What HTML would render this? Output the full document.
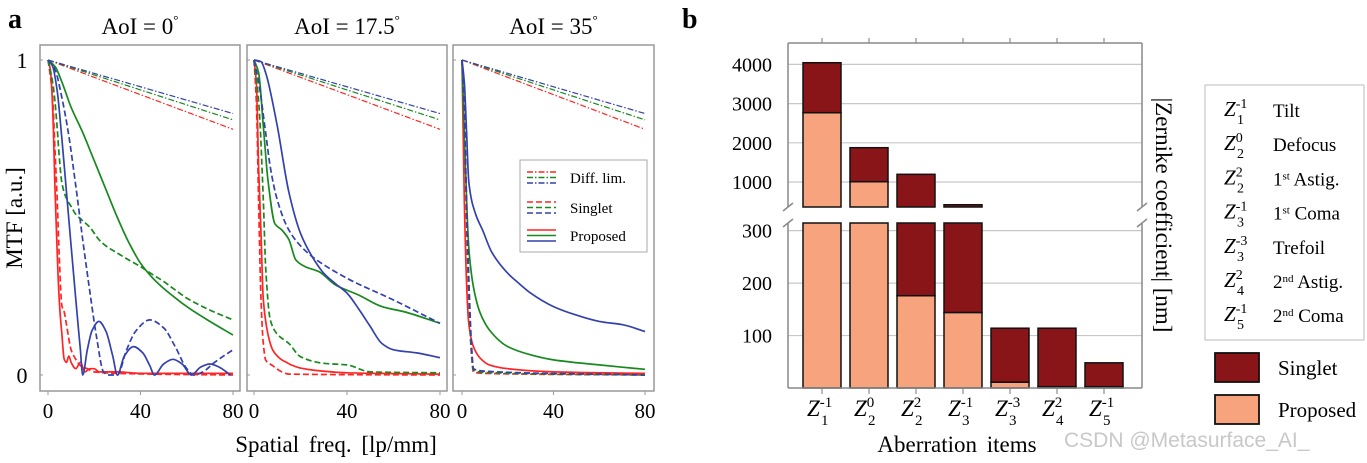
<!DOCTYPE html>
<html><head><meta charset="utf-8"><style>
html,body{margin:0;padding:0;background:#fff;}
svg{display:block;font-family:"Liberation Serif",serif;}
</style></head><body>
<svg id="fig" width="1367" height="463" viewBox="0 0 1367 463" xmlns="http://www.w3.org/2000/svg">
<text x="8" y="28" font-size="28" font-weight="bold">a</text>
<text x="682" y="28" font-size="28" font-weight="bold">b</text>
<g id="panelA"></g>
<g id="panelB"></g>
</svg>
<script>
// ---------- Panel a data: [freq, MTF] ----------
const freqTicks = [0, 40, 80];
const aoiTitles = ["AoI = 0", "AoI = 17.5", "AoI = 35"];
const diffEnd = {red: 0.78, green: 0.81, blue: 0.83};

const aoi0_redProposed = [[0,1],[1,0.97],[2,0.85],[3,0.6],[4,0.38],[5,0.22],[6,0.13],[7,0.05],[8,0.04],[9,0.06],[10,0.04],[12,0.02],[14,0.04],[16,0.01],[18,0.02],[20,0.02],[22,0.01],[26,0.01],[30,0.01],[40,0.005],[60,0.005],[80,0.005]];
const aoi0_redSinglet = [[0,1],[1,0.95],[2,0.88],[3,0.72],[4,0.55],[5,0.35],[6,0.22],[7,0.2],[8,0.16],[10,0.08],[12,0.05],[14,0.03],[17,0.02],[20,0.01],[30,0.005],[80,0]];
const aoi0_greenProposed = [[0,1],[3,0.98],[6,0.93],[10,0.85],[15,0.77],[20,0.68],[25,0.59],[30,0.5],[35,0.42],[40,0.355],[45,0.31],[50,0.275],[55,0.245],[60,0.217],[70,0.17],[80,0.127]];
const aoi0_greenSinglet = [[0,1],[2,0.93],[3,0.87],[4,0.78],[5,0.68],[6,0.61],[8,0.56],[10,0.535],[12,0.51],[15,0.49],[18,0.47],[22,0.43],[25,0.41],[30,0.387],[35,0.365],[40,0.344],[45,0.32],[50,0.297],[55,0.27],[60,0.244],[70,0.206],[80,0.175]];
const aoi0_blueProposed = [[0,1],[2,0.98],[4,0.9],[6,0.75],[8,0.58],[10,0.41],[12,0.24],[14,0.08],[15,0],[17,0.08],[19,0.14],[22,0.17],[25,0.14],[28,0.06],[30,0],[33,0.06],[37,0.09],[41,0.07],[44,0.03],[46,0],[50,0.035],[54,0.05],[58,0.035],[62,0],[66,0.025],[70,0.035],[74,0.025],[79,0]];
const aoi0_blueSinglet = [[0,1],[3,0.97],[6,0.88],[9,0.76],[12,0.6],[15,0.43],[18,0.27],[21,0.12],[24,0.01],[26,0],[30,0],[34,0.08],[38,0.14],[44,0.175],[50,0.15],[55,0.09],[60,0.02],[63,0],[67,0.01],[72,0.04],[80,0.08]];

const aoi17_redProposed = [[0,1],[1,0.93],[2,0.66],[3,0.45],[4,0.24],[6,0.13],[8,0.08],[10,0.06],[12,0.048],[14,0.04],[16,0.032],[20,0.022],[25,0.016],[40,0.007],[80,0.003]];
const aoi17_redSinglet = [[0,1],[1,0.87],[2,0.55],[3,0.24],[4,0.1],[5,0.048],[8,0.03],[12,0.01],[15,0.003],[80,0]];
const aoi17_greenProposed = [[0,1],[2,0.96],[4,0.79],[6,0.62],[9,0.48],[12,0.46],[15,0.43],[18,0.365],[22,0.344],[28,0.328],[35,0.286],[45,0.254],[55,0.217],[65,0.2],[80,0.164]];
const aoi17_greenSinglet = [[0,1],[2,0.87],[4,0.556],[5,0.344],[7,0.175],[10,0.13],[15,0.1],[20,0.058],[30,0.037],[40,0.032],[50,0.01],[80,0.007]];
const aoi17_blueProposed = [[0,1],[3,0.995],[5,0.96],[10,0.79],[15,0.58],[20,0.45],[25,0.376],[30,0.323],[35,0.29],[40,0.26],[45,0.21],[50,0.154],[55,0.1],[60,0.08],[70,0.07],[80,0.055]];
const aoi17_blueSinglet = [[0,1],[2,0.93],[5,0.77],[7,0.66],[10,0.556],[15,0.46],[20,0.41],[25,0.376],[40,0.307],[60,0.238],[80,0.164]];

const aoi35_redProposed = [[0,1],[1,0.556],[2,0.29],[3,0.16],[5,0.09],[8,0.053],[12,0.032],[20,0.02],[40,0.01],[80,0.005]];
const aoi35_redSinglet = [[0,1],[1,0.8],[2,0.48],[3,0.24],[4,0.08],[5,0.01],[10,0.005],[80,0]];
const aoi35_greenProposed = [[0,1],[1,0.77],[2,0.556],[3,0.4],[5,0.28],[8,0.196],[12,0.143],[20,0.09],[30,0.064],[40,0.048],[60,0.032],[80,0.018]];
const aoi35_greenSinglet = [[0,1],[1,0.83],[2,0.52],[3,0.27],[4,0.1],[5,0.015],[10,0.008],[80,0]];
const aoi35_blueProposed = [[0,1],[1,0.93],[2,0.77],[3,0.61],[6,0.51],[9,0.46],[13,0.39],[20,0.323],[25,0.29],[30,0.26],[40,0.217],[50,0.19],[60,0.17],[70,0.16],[80,0.138]];
const aoi35_blueSinglet = [[0,1],[1,0.85],[2,0.55],[3,0.3],[4,0.12],[5,0.02],[10,0.012],[80,0]];

// ---------- Panel b data ----------
const zernCats = [["-1","1"],["0","2"],["2","2"],["-1","3"],["-3","3"],["2","4"],["-1","5"]];
const singletTotal = [4043, 1875, 1196, 420, 114, 114, 48];
const proposedVal = [2768, 1008, 176, 144, 11, 2.5, 2.5];
const upperTicks = [1000, 2000, 3000, 4000];
const lowerTicks = [100, 200, 300];
const legendNames = ["Tilt","Defocus","1|st| Astig.","1|st| Coma","Trefoil","2|nd| Astig.","2|nd| Coma"];

const NS = "http://www.w3.org/2000/svg";
function mk(tag, attrs, parent){ const e=document.createElementNS(NS,tag); for(const k in attrs) e.setAttribute(k,attrs[k]); if(parent) parent.appendChild(e); return e; }

const COL = {red:"#ff2525", green:"#17891d", blue:"#3341ad"};
const A = document.getElementById("panelA");
const subs = [
  {fl:40, fr:240, x0:48, x80:233, d:[aoi0_redProposed,aoi0_redSinglet,aoi0_greenProposed,aoi0_greenSinglet,aoi0_blueProposed,aoi0_blueSinglet]},
  {fl:247, fr:447, x0:254, x80:440, d:[aoi17_redProposed,aoi17_redSinglet,aoi17_greenProposed,aoi17_greenSinglet,aoi17_blueProposed,aoi17_blueSinglet]},
  {fl:453, fr:654, x0:462, x80:645, d:[aoi35_redProposed,aoi35_redSinglet,aoi35_greenProposed,aoi35_greenSinglet,aoi35_blueProposed,aoi35_blueSinglet]}
];
const FT=45, FB=391, Y1=60, Y0=375;
function ys(v){ return Y0 - v*(Y0-Y1); }

// monotone cubic (Fritsch-Carlson) -> no overshoot
function smoothPath(p){
  const n=p.length, dx=[], m=[], t=[];
  for(let i=0;i<n-1;i++){ dx[i]=p[i+1][0]-p[i][0]; m[i]=(p[i+1][1]-p[i][1])/dx[i]; }
  t[0]=m[0]; t[n-1]=m[n-2];
  for(let i=1;i<n-1;i++){
    if(m[i-1]*m[i]<=0) t[i]=0;
    else { const w1=2*dx[i]+dx[i-1], w2=dx[i]+2*dx[i-1]; t[i]=(w1+w2)/(w1/m[i-1]+w2/m[i]); }
  }
  let d="M"+p[0][0].toFixed(1)+","+p[0][1].toFixed(1);
  for(let i=0;i<n-1;i++){
    const h=dx[i];
    d+=" C"+(p[i][0]+h/3).toFixed(1)+","+(p[i][1]+t[i]*h/3).toFixed(1)+" "+(p[i+1][0]-h/3).toFixed(1)+","+(p[i+1][1]-t[i+1]*h/3).toFixed(1)+" "+p[i+1][0].toFixed(1)+","+p[i+1][1].toFixed(1);
  }
  return d;
}

subs.forEach((s,si)=>{
  const xs = f => s.x0 + f*(s.x80-s.x0)/80;
  const g = mk("g",{},A);
  
  
  const fr = mk("rect",{x:s.fl,y:FT,width:s.fr-s.fl,height:FB-FT,fill:"none",stroke:"#999","stroke-width":1.5},g);
  
  
  const t = mk("text",{x:(s.fl+s.fr)/2,y:34,"font-size":23,"text-anchor":"middle"},g);
  
  
  t.textContent = aoiTitles[si];
  const deg = mk("tspan",{dy:-10,"font-size":13},t); deg.textContent="°";
  freqTicks.forEach(f=>{
    mk("line",{x1:xs(f),x2:xs(f),y1:FB,y2:FB+4,stroke:"#999","stroke-width":1},g);
    const tl = mk("text",{x:xs(f),y:418,"font-size":21,"text-anchor":"middle"},g);
    
    
    tl.textContent=f;
  });
  [0,1].forEach(v=>{ mk("line",{x1:s.fl,x2:s.fl+3,y1:ys(v),y2:ys(v),stroke:"#999","stroke-width":1},g); });
  ["red","green","blue"].forEach(c=>{
    const p = mk("line",{x1:xs(0),y1:ys(1),x2:xs(80),y2:ys(diffEnd[c]),stroke:COL[c],"stroke-width":1.2,"stroke-dasharray":"6,2,1.5,2"},g);
    
    
  });
  const order=[[1,"red",true],[0,"red",false],[3,"green",true],[2,"green",false],[5,"blue",true],[4,"blue",false]];
  order.forEach(o=>{
    const pts = s.d[o[0]].map(p=>[xs(p[0]),ys(p[1])]);
    const path = mk("path",{d:smoothPath(pts),fill:"none",stroke:COL[o[1]],"stroke-width":1.7},g);
    if(o[2]) path.setAttribute("stroke-dasharray","6,3");
    
    
  });
  if(si===0){
    [[1,"1"],[0,"0"]].forEach(v=>{
      const yl = mk("text",{x:22,y:ys(v[0])+8,"font-size":22,"text-anchor":"middle"},g);
      
      
      yl.textContent=v[1];
    });
  }
});
const yt = mk("text",{x:0,y:0,"font-size":23,"text-anchor":"middle",transform:"translate(22,218) rotate(-90)"},A);


yt.textContent="MTF [a.u.]";
const xt = mk("text",{x:336,y:452,"font-size":23,"text-anchor":"middle","word-spacing":"4"},A);


xt.textContent="Spatial freq. [lp/mm]";
const lg = mk("g",{},A);


mk("rect",{x:520,y:160,width:127,height:92,fill:"#fff",stroke:"#aaa","stroke-width":1},lg);
[["Diff. lim.","6,2,1.5,2",172],["Singlet","6,3",202],["Proposed","",230]].forEach(e=>{
  ["red","green","blue"].forEach((c,ci)=>{
    const l = mk("line",{x1:527,x2:556,y1:e[2]+ci*5.5,y2:e[2]+ci*5.5,stroke:COL[c],"stroke-width":1.6},lg);
    if(e[1]) l.setAttribute("stroke-dasharray",e[1]);
  });
  const tx = mk("text",{x:570,y:e[2]+11,"font-size":15},lg);
  
  
  tx.textContent=e[0];
});

// ---------- Panel b ----------
const B = document.getElementById("panelB");
const BL=788, BR=1142, BT=43, BBot=388;
const upBreak=207, loBreak=223;
const yUp = v => 182 - (v-1000)*39.2/1000;
const yLo = v => 388 - v*0.5245;
const xc = i => 822 + i*47;
const BW = 38;
mk("rect",{x:BL,y:BT,width:BR-BL,height:BBot-BT,fill:"#fff",stroke:"none"},B);
upperTicks.forEach(v=>{
  mk("line",{x1:BL,x2:BR,y1:yUp(v),y2:yUp(v),stroke:"#c8c8c8","stroke-width":1.2},B);
  const t = mk("text",{x:772,y:yUp(v)+7,"font-size":20,"text-anchor":"end"},B);
  
  
  t.textContent=v;
});
lowerTicks.forEach(v=>{
  mk("line",{x1:BL,x2:BR,y1:yLo(v),y2:yLo(v),stroke:"#c8c8c8","stroke-width":1.2},B);
  const t = mk("text",{x:772,y:yLo(v)+7,"font-size":20,"text-anchor":"end"},B);
  
  
  t.textContent=v;
});
function seg(x,y1,y2,fill,name){
  if(y2-y1<=0.2) return;
  const r = mk("rect",{x:x,y:y1,width:BW,height:y2-y1,fill:fill,stroke:"#111","stroke-width":1.5},B);
  
  
}
zernCats.forEach((c,i)=>{
  const x = xc(i)-BW/2;
  const tot = singletTotal[i], pr = proposedVal[i];
  const loMax = 313;
  const pLo = Math.min(pr, loMax), tLo = Math.min(tot, loMax);
  const pTop = pr>loMax ? loBreak : yLo(pLo);
  const tTop = tot>loMax ? loBreak : yLo(tLo);
  seg(x, pTop, yLo(0), "#f6a37e", "proposed-bar-"+(i+1));
  if(tot>pr) seg(x, tTop, pTop, "#8a1519", "singlet-bar-"+(i+1));
  const upMin = 362;
  if(tot>upMin){
    if(pr>upMin){
      seg(x, yUp(pr), upBreak, "#f6a37e", "proposed-bar-upper-"+(i+1));
      seg(x, yUp(tot), yUp(pr), "#8a1519", "singlet-bar-upper-"+(i+1));
    } else {
      seg(x, yUp(tot), upBreak, "#8a1519", "singlet-bar-upper-"+(i+1));
    }
  }
  mk("line",{x1:xc(i),x2:xc(i),y1:BBot,y2:BBot+6,stroke:"#777","stroke-width":1},B);
  mk("line",{x1:xc(i),x2:xc(i),y1:BT,y2:BT-5,stroke:"#777","stroke-width":1},B);
  const t = mk("text",{x:xc(i)-15,y:416,"font-size":23,"font-style":"italic"},B);
  
  
  t.textContent="Z";
  const sup = mk("tspan",{dy:-9,"font-size":15,"font-style":"normal"},t); sup.textContent=c[0];
  const sub = mk("tspan",{x:xc(i)-1,dy:18,"font-size":15,"font-style":"normal"},t); sub.textContent=c[1];
});
const fr = "#888";
mk("line",{x1:BL,x2:BR,y1:BT,y2:BT,stroke:fr,"stroke-width":1.5},B);
mk("line",{x1:BL,x2:BR,y1:BBot,y2:BBot,stroke:fr,"stroke-width":1.5},B);
[BL,BR].forEach(x=>{
  mk("line",{x1:x,x2:x,y1:BT,y2:upBreak,stroke:fr,"stroke-width":1.5},B);
  mk("line",{x1:x,x2:x,y1:loBreak,y2:BBot,stroke:fr,"stroke-width":1.5},B);
  mk("line",{x1:x-5,x2:x+5,y1:upBreak+4,y2:upBreak-4,stroke:fr,"stroke-width":1.5},B);
  mk("line",{x1:x-5,x2:x+5,y1:loBreak+4,y2:loBreak-4,stroke:fr,"stroke-width":1.5},B);
});
const bxt = mk("text",{x:957,y:452,"font-size":23,"text-anchor":"middle","word-spacing":"4"},B);


bxt.textContent="Aberration items";
const byt = mk("text",{x:0,y:0,"font-size":23,"text-anchor":"middle",transform:"translate(1156,215) rotate(90)"},B);


byt.textContent="|Zernike coefficient| [nm]";
const bl = mk("g",{},B);


mk("rect",{x:1205,y:85,width:159,height:255,fill:"#fff",stroke:"#bbb","stroke-width":1},bl);
zernCats.forEach((c,i)=>{
  const y = 110 + i*34.2;
  const t = mk("text",{x:1224,y:y+6,"font-size":21,"font-style":"italic"},bl);
  
  
  t.textContent="Z";
  const sp = mk("tspan",{dy:-8,"font-size":14,"font-style":"normal"},t); sp.textContent=c[0];
  const sb = mk("tspan",{x:1237,dy:16,"font-size":14,"font-style":"normal"},t); sb.textContent=c[1];
  const parts = legendNames[i].split("|");
  const n = mk("text",{x:1273,y:y+7,"font-size":19},bl);
  
  
  if(parts.length===1){ n.textContent=parts[0]; }
  else {
    const a = mk("tspan",{},n); a.textContent=parts[0];
    const b = mk("tspan",{dy:-6,"font-size":11},n); b.textContent=parts[1];
    const d = mk("tspan",{dy:6},n); d.textContent=parts[2];
  }
});
[["Singlet","#8a1519",353],["Proposed","#f6a37e",395]].forEach(e=>{
  const r = mk("rect",{x:1215,y:e[2],width:44,height:29,fill:e[1],stroke:"#111","stroke-width":1.8},bl);
  
  
  const t = mk("text",{x:1278,y:e[2]+22,"font-size":21},bl);
  
  
  t.textContent=e[0];
});
const wm = mk("text",{x:1064,y:447,"font-size":21,fill:"#c8c8c8","font-family":"Liberation Sans, sans-serif"},B);


wm.textContent="CSDN @Metasurface_AI_";
</script>
</body></html>
